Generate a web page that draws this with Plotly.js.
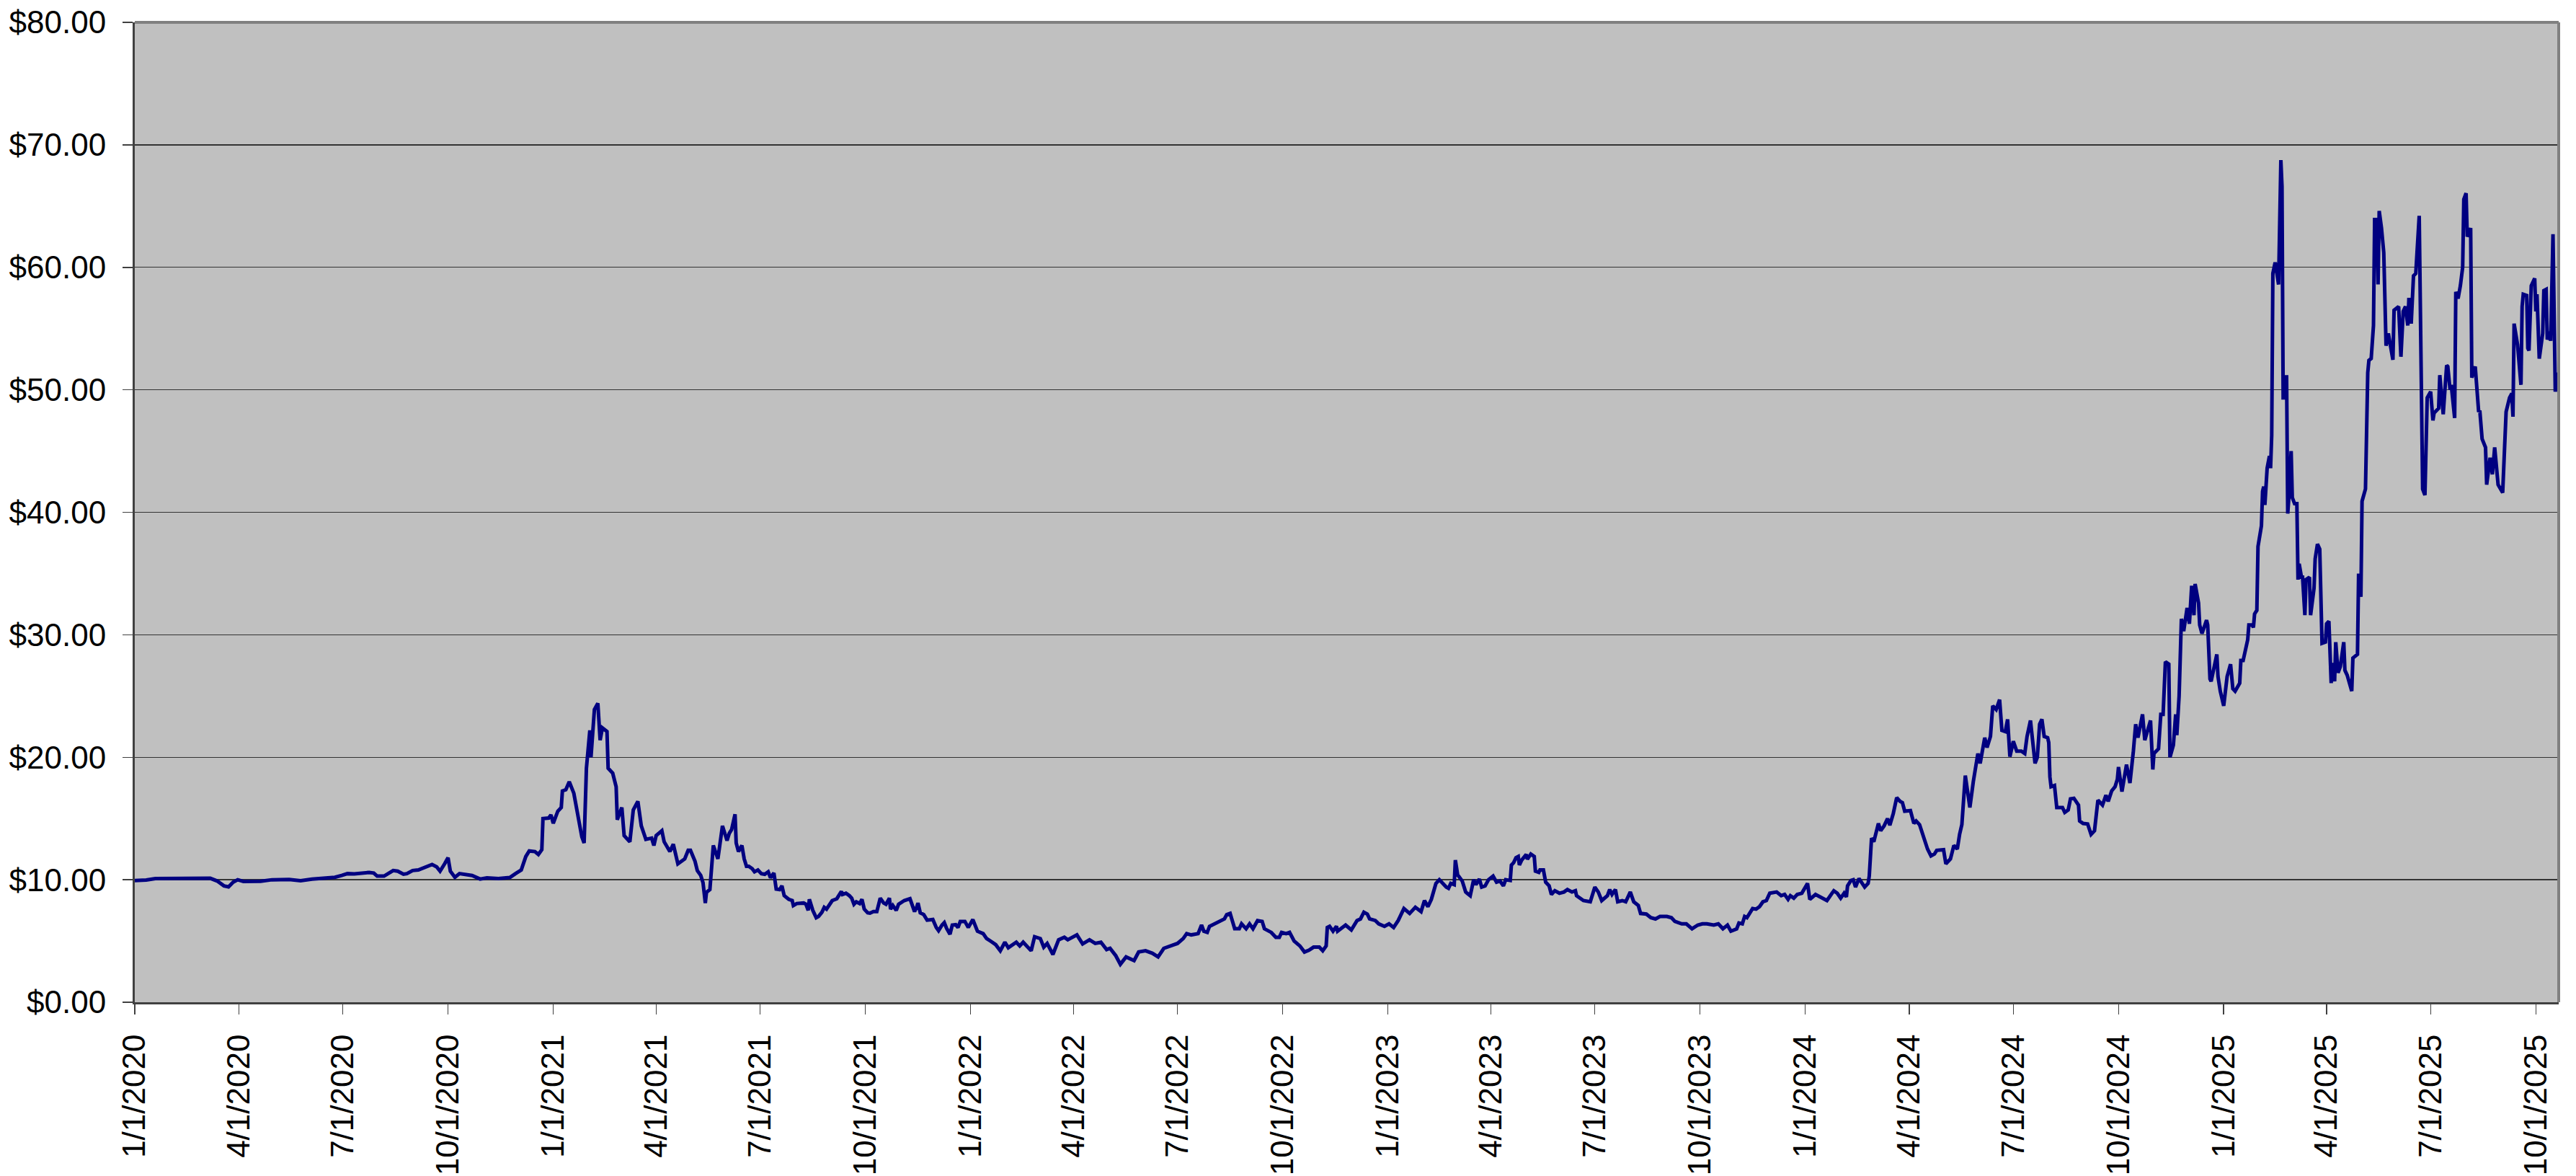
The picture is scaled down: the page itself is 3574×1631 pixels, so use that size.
<!DOCTYPE html>
<html>
<head>
<meta charset="utf-8">
<script src="https://cdn.plot.ly/plotly-3.0.1.min.js"></script>
<style>
  html, body { margin: 0; padding: 0; background: #ffffff; }
  #chart { width: 3574px; height: 1631px; }
</style>
</head>
<body>
<div id="chart"></div>
<script>
// Day offsets counted from 1/1/2020 (day 0).
const tradingDay = [
  0,10,18,30,45,55,66,72,78,82,86,90,95,110,120,135,145,155,165,175,
  181,186,192,198,205,209,212,218,222,226,230,235,238,243,248,254,260,264,267,271,
  274,276,280,284,290,295,302,308,318,328,333,338,342,345,350,353,356,357,362,364,
  366,370,373,374,377,380,384,387,391,393,395,398,399,402,405,407,409,413,414,418,
  421,422,426,428,433,436,440,443,447,452,454,456,461,463,468,471,475,481,484,486,
  490,492,495,497,499,500,503,506,510,514,518,520,522,525,526,528,531,533,535,537,
  540,542,545,548,551,554,556,559,561,564,566,568,572,575,576,579,583,585,587,589,
  590,593,596,598,601,603,605,608,610,614,616,618,619,622,625,627,629,631,634,636,
  638,641,643,646,649,651,652,655,657,660,661,663,666,668,670,673,678,682,684,685,
  687,690,693,698,701,703,706,708,710,713,715,718,720,722,726,729,733,737,742,745,
  749,753,757,761,764,771,774,777,784,787,792,795,798,803,808,813,816,824,829,835,
  840,845,850,853,858,862,867,874,878,884,890,895,900,904,909,912,917,920,924,930,
  933,935,938,940,945,949,953,955,958,962,966,968,972,975,978,982,986,988,994,998,
  1001,1003,1007,1010,1014,1019,1023,1027,1031,1036,1039,1042,1043,1045,1048,1051,1052,1059,1064,1069,
  1072,1075,1078,1080,1085,1088,1093,1097,1101,1105,1110,1115,1120,1125,1128,1131,1134,1138,1141,1147,
  1149,1151,1154,1155,1157,1161,1164,1168,1171,1173,1176,1178,1181,1184,1188,1191,1194,1197,1199,1203,
  1204,1206,1208,1210,1211,1213,1217,1218,1221,1224,1225,1228,1229,1232,1234,1237,1239,1242,1246,1250,
  1253,1257,1260,1261,1267,1273,1277,1280,1283,1288,1290,1292,1295,1297,1301,1304,1308,1311,1315,1317,
  1322,1326,1330,1334,1340,1344,1347,1353,1357,1362,1367,1371,1375,1381,1385,1389,1393,1396,1401,1403,
  1406,1408,1410,1415,1418,1421,1424,1427,1430,1436,1440,1443,1446,1448,1451,1454,1458,1463,1465,1470,
  1474,1480,1486,1489,1492,1495,1497,1498,1501,1503,1505,1508,1513,1516,1517,1519,1521,1525,1527,1530,
  1533,1535,1538,1541,1544,1546,1548,1553,1556,1558,1561,1563,1566,1568,1571,1574,1576,1582,1584,1588,
  1591,1594,1596,1598,1601,1605,1608,1612,1614,1618,1620,1623,1625,1628,1631,1633,1636,1638,1640,1643,
  1646,1650,1653,1655,1658,1662,1664,1666,1668,1670,1673,1674,1675,1676,1679,1681,1686,1688,1691,1693,
  1696,1700,1701,1704,1708,1711,1714,1717,1721,1724,1726,1729,1732,1734,1735,1738,1742,1745,1748,1750,
  1752,1756,1758,1760,1763,1765,1766,1770,1772,1774,1776,1779,1780,1783,1785,1786,1788,1790,1792,1795,
  1797,1799,1801,1802,1805,1806,1808,1812,1813,1815,1816,1821,1822,1824,1827,1830,1833,1835,1837,1841,
  1842,1844,1848,1849,1852,1853,1854,1856,1857,1860,1861,1862,1863,1865,1867,1868,1869,1870,1872,1873,
  1875,1877,1878,1879,1880,1882,1883,1884,1886,1887,1889,1891,1892,1893,1895,1896,1898,1899,1902,1903,
  1906,1907,1909,1911,1912,1913,1916,1917,1919,1921,1922,1924,1925,1927,1929,1932,1933,1935,1939,1940,
  1944,1945,1947,1948,1951,1953,1954,1956,1958,1959,1961,1962,1963,1965,1967,1969,1971,1973,1975,1976,
  1980,1982,1984,1986,1988,1989,1991,1993,1995,1998,2001,2003,2005,2008,2010,2011,2015,2016,2019,2022,
  2023,2025,2026,2029,2030,2032,2034,2036,2037,2039,2040,2043,2044,2047,2050,2051,2053,2056,2057,2060,
  2062,2064,2066,2067,2071,2074,2077,2079,2080,2081,2084,2086,2087,2088,2089,2092,2093,2094,2096,2099,
  2100,2101,2103,2106,2107,2109,2110,2112,2113,2115,2117,2120
];

const prices = [
  9.94,9.98,10.1,10.1,10.15,10.1,10.12,9.9,9.5,9.42,9.8,10.0,9.86,9.88,10.0,10.02,9.92,10.05,10.1,10.2,
  10.35,10.5,10.48,10.55,10.6,10.55,10.3,10.3,10.55,10.75,10.7,10.45,10.5,10.75,10.8,11.0,11.25,11.05,10.7,11.3,
  11.8,10.7,10.2,10.5,10.45,10.35,10.06,10.15,10.1,10.18,10.5,10.8,11.9,12.35,12.3,12.06,12.45,15.0,15.04,15.3,
  14.6,15.6,15.9,17.25,17.35,18.0,17.06,15.6,13.5,13.0,19.1,22.2,20.0,23.9,24.4,21.4,22.4,22.1,19.1,18.7,
  17.6,14.9,15.9,13.6,13.1,15.7,16.4,14.4,13.3,13.4,12.8,13.6,14.0,13.1,12.3,12.9,11.3,11.7,12.4,12.4,
  11.5,10.75,10.35,9.76,8.1,8.98,9.2,12.8,11.7,14.4,13.2,13.8,14.1,15.35,13.0,12.3,12.8,11.7,11.1,11.1,
  10.9,10.65,10.8,10.5,10.45,10.65,10.16,10.55,9.24,9.2,9.5,8.7,8.4,8.3,7.9,8.06,8.1,8.1,8.0,7.5,
  8.4,7.5,6.9,7.0,7.35,7.75,7.6,8.0,8.3,8.45,8.7,9.04,8.8,8.9,8.7,8.5,8.0,8.2,8.06,8.4,
  7.6,7.3,7.27,7.4,7.4,8.2,8.5,8.1,8.0,8.5,7.6,7.9,7.5,8.0,8.1,8.3,8.45,7.4,7.8,8.1,
  7.3,7.16,6.7,6.76,6.1,5.84,6.3,6.5,6.04,5.55,6.3,6.33,6.1,6.6,6.6,6.1,6.75,5.8,5.6,5.2,
  4.96,4.7,4.2,4.9,4.45,4.9,4.6,4.9,4.2,5.35,5.2,4.5,4.8,3.9,5.1,5.3,5.1,5.5,4.76,5.1,
  4.8,4.9,4.3,4.4,3.8,3.1,3.7,3.4,4.1,4.2,4.0,3.7,4.4,4.5,4.7,4.8,5.2,5.6,5.5,5.6,
  6.3,5.8,5.7,6.2,6.4,6.6,6.8,7.15,7.25,6.0,6.0,6.4,6.0,6.4,6.0,6.67,6.6,6.0,5.7,5.3,
  5.3,5.7,5.6,5.7,5.0,4.6,4.1,4.25,4.5,4.5,4.2,4.6,6.1,6.2,5.8,6.2,5.8,6.3,5.9,6.67,
  6.8,7.35,7.2,6.8,6.67,6.4,6.2,6.4,6.1,6.67,7.65,7.25,7.75,7.4,8.3,7.8,8.4,9.7,10.0,9.4,
  9.3,9.7,9.6,11.6,10.4,9.9,9.0,8.7,10.0,9.6,10.06,9.4,9.5,10.0,10.3,9.8,9.9,9.5,10.0,9.94,
  11.2,11.4,11.8,11.9,11.2,11.6,12.06,11.67,12.1,11.9,10.7,10.6,10.8,10.8,9.8,9.5,8.8,9.1,8.9,9.0,
  9.2,9.0,9.1,8.7,8.3,8.2,9.4,9.0,8.3,8.7,9.2,8.8,9.2,8.2,8.3,8.2,9.0,8.2,7.9,7.25,
  7.2,6.9,6.8,7.0,7.0,6.9,6.6,6.4,6.4,6.0,6.3,6.4,6.4,6.3,6.4,6.0,6.3,5.8,5.98,6.47,
  6.4,7.0,6.9,7.65,7.6,7.8,8.2,8.3,8.9,9.0,8.7,8.8,8.4,8.7,8.5,8.8,8.9,9.7,8.4,8.8,
  8.6,8.3,9.1,8.9,8.5,8.9,8.6,9.5,9.94,10.0,9.4,10.1,9.4,9.7,10.3,13.4,13.1,14.6,14.0,14.4,
  15.0,14.45,15.4,16.7,16.4,16.3,15.6,15.65,14.6,14.8,14.5,13.9,13.0,12.5,11.95,12.1,12.4,12.45,11.3,11.7,
  12.8,12.5,13.7,14.5,18.5,15.9,18.0,20.3,19.5,21.6,20.8,21.7,24.2,23.9,24.7,22.2,22.1,23.1,20.05,21.3,
  20.5,20.5,20.3,21.7,23.0,19.5,20.0,22.7,23.1,21.7,21.6,21.2,18.4,17.6,17.7,15.9,15.9,15.5,15.7,16.6,
  16.65,16.1,14.8,14.6,14.55,13.7,14.0,16.5,16.1,16.9,16.4,17.25,17.6,18.2,19.2,17.2,19.4,17.9,20.5,22.7,
  21.6,23.5,21.4,22.0,23.0,19.0,20.3,20.7,23.5,23.5,27.8,27.6,20.0,21.0,23.5,21.8,25.0,31.3,30.3,32.2,
  30.9,34.0,31.6,34.15,32.6,30.8,30.1,31.2,30.8,26.4,26.2,28.4,26.6,25.4,24.2,26.6,27.6,25.6,25.4,26.05,
  27.9,27.9,29.6,30.8,30.8,30.6,31.7,32.0,37.2,38.9,41.7,42.1,40.6,43.6,44.6,43.6,46.3,59.5,60.4,59.8,
  58.6,68.75,66.6,49.35,49.35,51.2,39.9,41.2,45.0,41.2,40.7,40.7,34.5,35.8,34.7,34.7,31.6,34.5,34.7,31.6,
  33.8,36.2,37.4,37.0,33.5,29.3,29.4,30.9,31.1,26.05,27.7,26.2,29.4,26.9,27.4,29.4,27.1,26.7,25.4,28.1,
  28.4,35.0,33.1,40.9,41.9,51.4,52.4,52.55,55.25,63.9,63.9,58.6,64.6,63.2,61.2,53.6,54.6,53.4,52.45,56.5,
  56.8,52.7,56.4,56.8,55.25,57.5,55.4,59.3,59.5,64.2,41.9,41.4,49.35,49.85,47.5,48.1,48.5,51.2,48.0,52.0,
  51.9,50.0,50.4,47.7,58.0,57.45,58.5,60.0,65.55,66.05,62.5,63.2,51.0,51.9,48.2,48.3,46.0,45.3,42.25,44.45,
  43.1,45.3,43.1,42.25,41.6,48.2,49.35,49.7,47.8,55.4,53.7,51.0,50.4,56.8,57.8,57.7,53.4,53.2,58.5,59.1,
  56.4,57.8,52.55,54.6,58.1,58.2,54.1,54.75,54.0,62.7,49.85,51.4
];

const tickDates = [
  "2020-01-01","2020-04-01","2020-07-01","2020-10-01",
  "2021-01-01","2021-04-01","2021-07-01","2021-10-01",
  "2022-01-01","2022-04-01","2022-07-01","2022-10-01",
  "2023-01-01","2023-04-01","2023-07-01","2023-10-01",
  "2024-01-01","2024-04-01","2024-07-01","2024-10-01",
  "2025-01-01","2025-04-01","2025-07-01","2025-10-01"
];
const tickLabels = [
  "1/1/2020","4/1/2020","7/1/2020","10/1/2020",
  "1/1/2021","4/1/2021","7/1/2021","10/1/2021",
  "1/1/2022","4/1/2022","7/1/2022","10/1/2022",
  "1/1/2023","4/1/2023","7/1/2023","10/1/2023",
  "1/1/2024","4/1/2024","7/1/2024","10/1/2024",
  "1/1/2025","4/1/2025","7/1/2025","10/1/2025"
];

const startDate = "2020-01-01";
const endDate = "2025-10-21";

function dayToDate(d) {
  const base = new Date(startDate + "T00:00:00Z");
  const t = new Date(base.getTime() + d * 86400000);
  return t.toISOString().slice(0, 10);
}
const dates = tradingDay.map(dayToDate);

const FONT = "Liberation Sans, Arial, Helvetica, sans-serif";

const trace = {
  x: dates,
  y: prices,
  type: "scatter",
  mode: "lines",
  line: { color: "#000080", width: 5 },
  hoverinfo: "x+y"
};

const layout = {
  width: 3574,
  height: 1631,
  margin: { l: 187, r: 24, t: 31, b: 241, pad: 0 },
  paper_bgcolor: "#ffffff",
  plot_bgcolor: "#c0c0c0",
  showlegend: false,
  xaxis: {
    type: "date",
    range: [startDate, endDate],
    tickmode: "array",
    tickvals: tickDates,
    ticktext: tickLabels,
    tickangle: -90,
    ticks: "outside",
    ticklen: 14,
    tickwidth: 1.5,
    tickcolor: "#404040",
    tickfont: { family: FONT, size: 44, color: "#000000" },
    ticklabelstandoff: 10,
    showgrid: false,
    zeroline: false,
    showline: true,
    linecolor: "#404040",
    linewidth: 3,
    fixedrange: true
  },
  yaxis: {
    range: [0, 80],
    dtick: 10,
    tick0: 0,
    tickprefix: "$",
    tickformat: ".2f",
    ticks: "outside",
    ticklen: 14,
    tickwidth: 1.5,
    tickcolor: "#404040",
    tickfont: { family: FONT, size: 44, color: "#000000" },
    ticklabelstandoff: 14,
    showgrid: true,
    gridcolor: "#333333",
    gridwidth: 1.3,
    zeroline: false,
    showline: true,
    linecolor: "#404040",
    linewidth: 3,
    fixedrange: true
  },
  shapes: [
    { type: "line", xref: "paper", yref: "paper", x0: 0, x1: 1, y0: 1, y1: 1,
      line: { color: "#808080", width: 4 } },
    { type: "line", xref: "paper", yref: "paper", x0: 1, x1: 1, y0: 0, y1: 1,
      line: { color: "#808080", width: 4 } }
  ]
};

Plotly.newPlot("chart", [trace], layout, { staticPlot: true, displayModeBar: false });
</script>
</body>
</html>
